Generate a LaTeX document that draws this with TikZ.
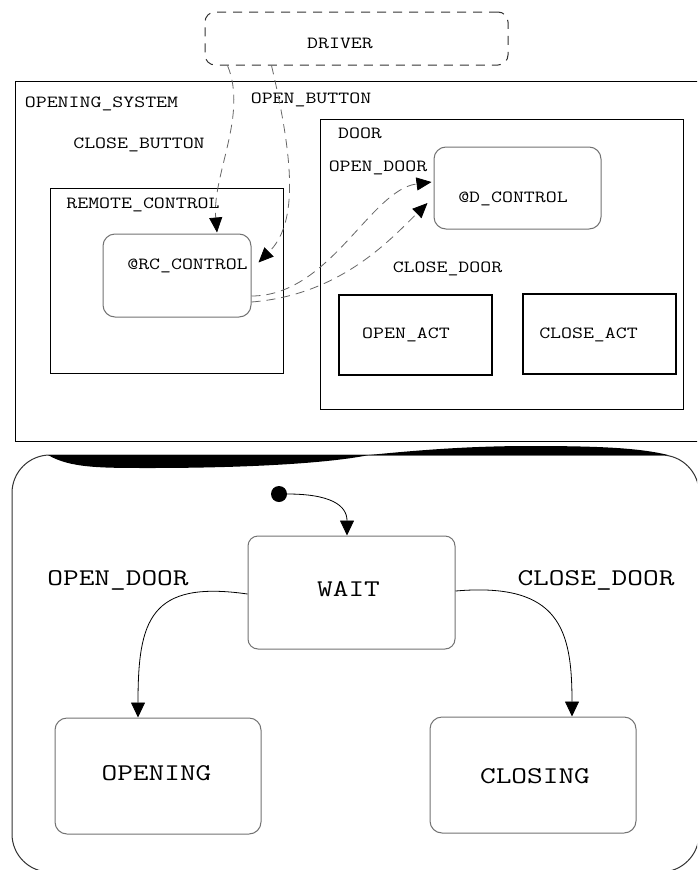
\documentclass[tikz,border=0pt]{standalone}
\usepackage{graphicx}
\usetikzlibrary{arrows.meta,calc}
\newcommand\sx[1]{\scalebox{1.25}[1]{#1}}
\newcommand\bx[1]{\scalebox{1.27}[1]{#1}}
\begin{document}
\begin{tikzpicture}[x=1pt,y=-1pt,
  cont/.style={draw=black, line width=1pt, inner sep=0pt},
  actbox/.style={draw=black, line width=2pt, inner sep=0pt},
  stbox/.style={draw=black!55, line width=1pt, rounded corners=12pt, inner sep=0pt},
  drvbox/.style={draw=black!80, line width=1pt, dash pattern=on 9pt off 7pt, rounded corners=10pt, inner sep=0pt},
  sig/.style={draw=black!60, line width=0.8pt, dash pattern=on 9pt off 6pt, -{Triangle[length=15pt,width=13pt,color=black]}},
  trans/.style={draw=black, line width=0.8pt, -{Triangle[length=15pt,width=14pt]}},
  lbl/.style={inner sep=0pt, anchor=base, font=\fontsize{17}{20}\selectfont\ttfamily},
  blbl/.style={inner sep=0pt, anchor=base, font=\fontsize{24}{28}\selectfont\ttfamily},
]
\fill[white] (0,0) rectangle (697,870);
\useasboundingbox (0,0) rectangle (697,870);
\begin{scope}
\clip (0,0) rectangle (697,870);
% upper part
\node[drvbox, minimum width=303pt, minimum height=53pt] (driver) at (356.5,38.5) {};
\node[cont, minimum width=695pt, minimum height=359.5pt] (os) at (362.5,261.25) {};
\node[cont, minimum width=233pt, minimum height=185pt] (rc) at (166.5,280.5) {};
\node[stbox, minimum width=148pt, minimum height=83pt] (rcc) at (177,275.5) {};
\node[cont, minimum width=363pt, minimum height=290pt] (door) at (501.5,264) {};
\node[stbox, minimum width=167pt, minimum height=82pt] (dc) at (517.5,188) {};
\node[actbox, minimum width=153pt, minimum height=80pt] (oa) at (415.5,335) {};
\node[actbox, minimum width=153pt, minimum height=80pt] (ca) at (599.5,334) {};

\node[lbl] (tdriver) at (340,48) {\sx{DRIVER}};
\node[lbl] (tos) at (101.5,107) {\sx{OPENING\_SYSTEM}};
\node[lbl] (tcb) at (139,148) {\sx{CLOSE\_BUTTON}};
\node[lbl] (tob) at (311,103) {\sx{OPEN\_BUTTON}};
\node[lbl] (trc) at (143,208) {\sx{REMOTE\_CONTROL}};
\node[lbl] (trcc) at (187.5,269) {\sx{@RC\_CONTROL}};
\node[lbl] (tdoor) at (360,138) {\sx{DOOR}};
\node[lbl] (tod) at (378,171) {\sx{OPEN\_DOOR}};
\node[lbl] (tdc) at (513,202) {\sx{@D\_CONTROL}};
\node[lbl] (tcd) at (447.5,272) {\sx{CLOSE\_DOOR}};
\node[lbl] (toa) at (406,338) {\sx{OPEN\_ACT}};
\node[lbl] (tca) at (588.5,338) {\sx{CLOSE\_ACT}};

\draw[sig] ($(driver.south west)+(23,0)$) .. controls (248,115) and (212,175) .. ($(rcc.north)+(40,-1)$);
\draw[sig] ($(driver.south west)+(67,0)$) .. controls (296,170) and (296,225) .. ($(rcc.east)+(7,-13)$);
\draw[sig] ($(rcc.east)+(0,20.5)$) .. controls (330,296) and (370,190) .. ($(dc.west)+(-2,-6)$);
\draw[sig] ($(rcc.east)+(0,26.5)$) .. controls (340,295) and (390,240) .. ($(dc.west)+(-6,15)$);

% lower part
\node[draw=black!80, line width=1pt, rounded corners=38pt, inner sep=0pt, minimum width=687pt, minimum height=417pt] (ctrl) at (355.5,663.5) {};
\fill[black] (48,455) .. controls (70,468) and (100,468) .. (150,468) .. controls (250,468) and (330,463) .. (369,455) -- cycle;
\fill[black] (369,455) .. controls (420,450) and (470,446) .. (530,446) .. controls (600,446) and (640,448) .. (668,455) -- cycle;

\node[stbox, rounded corners=10pt, minimum width=207pt, minimum height=113pt] (wait) at (351.5,592.5) {};
\node[stbox, minimum width=206pt, minimum height=116pt] (opening) at (158,776) {};
\node[stbox, minimum width=206pt, minimum height=116pt] (closing) at (533,775) {};
\node[circle, fill=black, minimum size=16pt, inner sep=0pt] (init) at (279,494) {};

\node[blbl] (twait) at (348.5,596) {\bx{WAIT}};
\node[blbl] (topening) at (156.5,780) {\bx{OPENING}};
\node[blbl] (tclosing) at (535,783) {\bx{CLOSING}};
\node[blbl] (bod) at (118,585) {\bx{OPEN\_DOOR}};
\node[blbl] (bcd) at (596,585) {\bx{CLOSE\_DOOR}};

\draw[trans] (init.east) .. controls (330,494) and (347,505) .. ($(wait.north)+(-4.5,0)$);
\draw[trans] ($(wait.west)+(0,1.5)$) .. controls (150,580) and (138,620) .. ($(opening.north)+(-20,0)$);
\draw[trans] ($(wait.east)+(0,-1.5)$) .. controls (560,582) and (572,630) .. ($(closing.north)+(39,0)$);
\end{scope}
\end{tikzpicture}
\end{document}
